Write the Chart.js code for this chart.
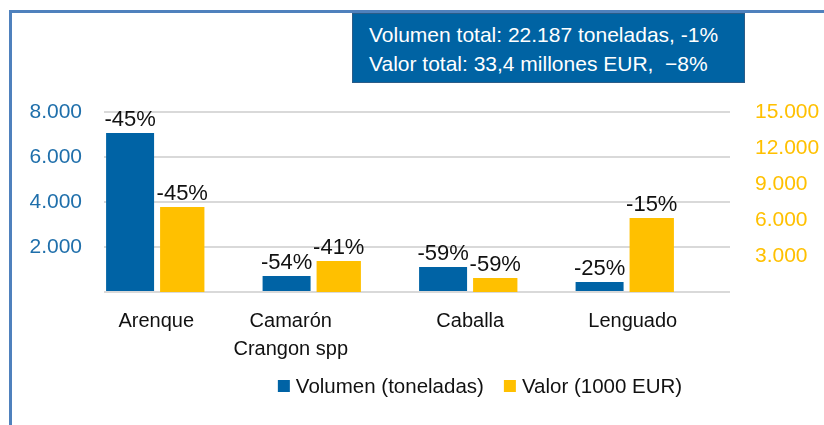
<!DOCTYPE html>
<html>
<head>
<meta charset="utf-8">
<script src="https://cdn.jsdelivr.net/npm/chart.js@4/dist/chart.umd.min.js"></script>
<style>
  html, body { margin: 0; padding: 0; background: #fff; }
  #wrap { position: relative; width: 824px; height: 425px; overflow: hidden; }
  #frame { position: absolute; left: 9px; top: 10px; right: -5px; bottom: -5px;
           border-top: 3px solid #4F81BD; border-left: 3px solid #4F81BD; }
  #c { position: absolute; left: 0; top: 0; }
  #box { position: absolute; left: 352px; top: 13px; width: 393px; height: 70px; box-sizing: border-box;
         background: #0063A3; border: 1px solid #2B5C88; color: #fff;
         font-family: "Liberation Sans", Arial, sans-serif; font-size: 21px; line-height: 29px;
         padding: 6px 0 0 16px; white-space: pre; }
</style>
</head>
<body>
<div id="wrap">
  <div id="frame"></div>
  <canvas id="c" width="824" height="425"></canvas>
  <div id="box">Volumen total: 22.187 toneladas, -1%
Valor total: 33,4 millones EUR,  −8%</div>
</div>
<script>
const categories = ["Arenque", ["Camarón", "Crangon spp"], "Caballa", "Lenguado"];
const volumen = [7070, 710, 1110, 440];
const valor = [7080, 2580, 1170, 6170];
const volumenPct = ["-45%", "-54%", "-59%", "-25%"];
const valorPct = ["-45%", "-41%", "-59%", "-15%"];
const leftTicks = [0, 2000, 4000, 6000, 8000];
const rightTicks = [0, 3000, 6000, 9000, 12000, 15000];
const seriesNames = ["Volumen (toneladas)", "Valor (1000 EUR)"];

const BLUE = "#0063A5", YELLOW = "#FFC000";
const FONT = '"Liberation Sans", Arial, sans-serif';
const labelShift = [-26, -48, -25, -19];

function fmt(v) {
  return String(v).replace(/\B(?=(\d{3})+(?!\d))/g, ".");
}

const pctLabels = {
  id: "pctLabels",
  afterDatasetsDraw(chart) {
    const ctx = chart.ctx;
    ctx.save();
    ctx.font = "22px " + FONT;
    ctx.fillStyle = "#111";
    ctx.textAlign = "center";
    ctx.textBaseline = "alphabetic";
    [volumenPct, valorPct].forEach((arr, di) => {
      const meta = chart.getDatasetMeta(di);
      meta.data.forEach((bar, i) => {
        ctx.fillText(arr[i], bar.x, bar.y - 7);
      });
    });
    ctx.restore();
  }
};

const catLabels = {
  id: "catLabels",
  afterDraw(chart) {
    const ctx = chart.ctx;
    const xs = chart.scales.x;
    ctx.save();
    ctx.font = "20px " + FONT;
    ctx.fillStyle = "#111";
    ctx.textAlign = "center";
    ctx.textBaseline = "alphabetic";
    categories.forEach((lab, i) => {
      const lines = Array.isArray(lab) ? lab : [lab];
      const x = xs.getPixelForValue(i) + labelShift[i];
      lines.forEach((t, k) => ctx.fillText(t, x, 327 + k * 28));
    });
    // legend
    ctx.font = "20.5px " + FONT;
    ctx.textAlign = "left";
    ctx.textBaseline = "middle";
    const colors = [BLUE, YELLOW];
    const box = 12, gap = 6, spacing = 20;
    const widths = seriesNames.map(n => box + gap + ctx.measureText(n).width);
    const total = widths.reduce((a, b) => a + b, 0) + spacing * (widths.length - 1);
    let x = 480 - total / 2;
    const y = 386;
    seriesNames.forEach((n, i) => {
      ctx.fillStyle = colors[i];
      ctx.fillRect(x, y - 6, box, box);
      ctx.fillStyle = "#111";
      ctx.fillText(n, x + box + gap, y + 1);
      x += widths[i] + spacing;
    });
    ctx.restore();
  }
};

new Chart(document.getElementById("c"), {
  type: "bar",
  data: {
    labels: categories,
    datasets: [
      { label: seriesNames[0], data: volumen, backgroundColor: BLUE, yAxisID: "y",
        barPercentage: 0.92, categoryPercentage: 1.0 },
      { label: seriesNames[1], data: valor, backgroundColor: YELLOW, yAxisID: "y1",
        barPercentage: 0.85, categoryPercentage: 1.0 },
      { label: "", data: [null, null, null, null], backgroundColor: "rgba(0,0,0,0)", yAxisID: "y",
        barPercentage: 0.9, categoryPercentage: 1.0 }
    ]
  },
  options: {
    responsive: false,
    animation: false,
    devicePixelRatio: 1,
    layout: { padding: { top: 112, left: 0, right: 0, bottom: 0 } },
    plugins: { legend: { display: false }, tooltip: { enabled: false } },
    scales: {
      x: {
        grid: { display: false },
        border: { display: false },
        ticks: { display: false },
        afterFit(s) { s.height = 133; }
      },
      y: {
        position: "left",
        min: 0, max: 8000,
        afterBuildTicks(s) { s.ticks = leftTicks.map(v => ({ value: v })); },
        grid: { color: "#D9D9D9", lineWidth: 2, drawTicks: false },
        border: { display: false },
        ticks: {
          padding: 22, color: "#1F6FAB",
          font: { family: FONT, size: 21 },
          callback: v => v === 0 ? "" : fmt(v)
        },
        afterFit(s) { s.width = 104; }
      },
      y1: {
        position: "right",
        min: 0, max: 15000,
        afterBuildTicks(s) { s.ticks = rightTicks.map(v => ({ value: v })); },
        grid: { display: false, drawTicks: false },
        border: { display: false },
        ticks: {
          padding: 25, color: YELLOW,
          font: { family: FONT, size: 21 },
          callback: v => v === 0 ? "" : fmt(v)
        },
        afterFit(s) { s.width = 94; }
      }
    }
  },
  plugins: [pctLabels, catLabels]
});
</script>
</body>
</html>
